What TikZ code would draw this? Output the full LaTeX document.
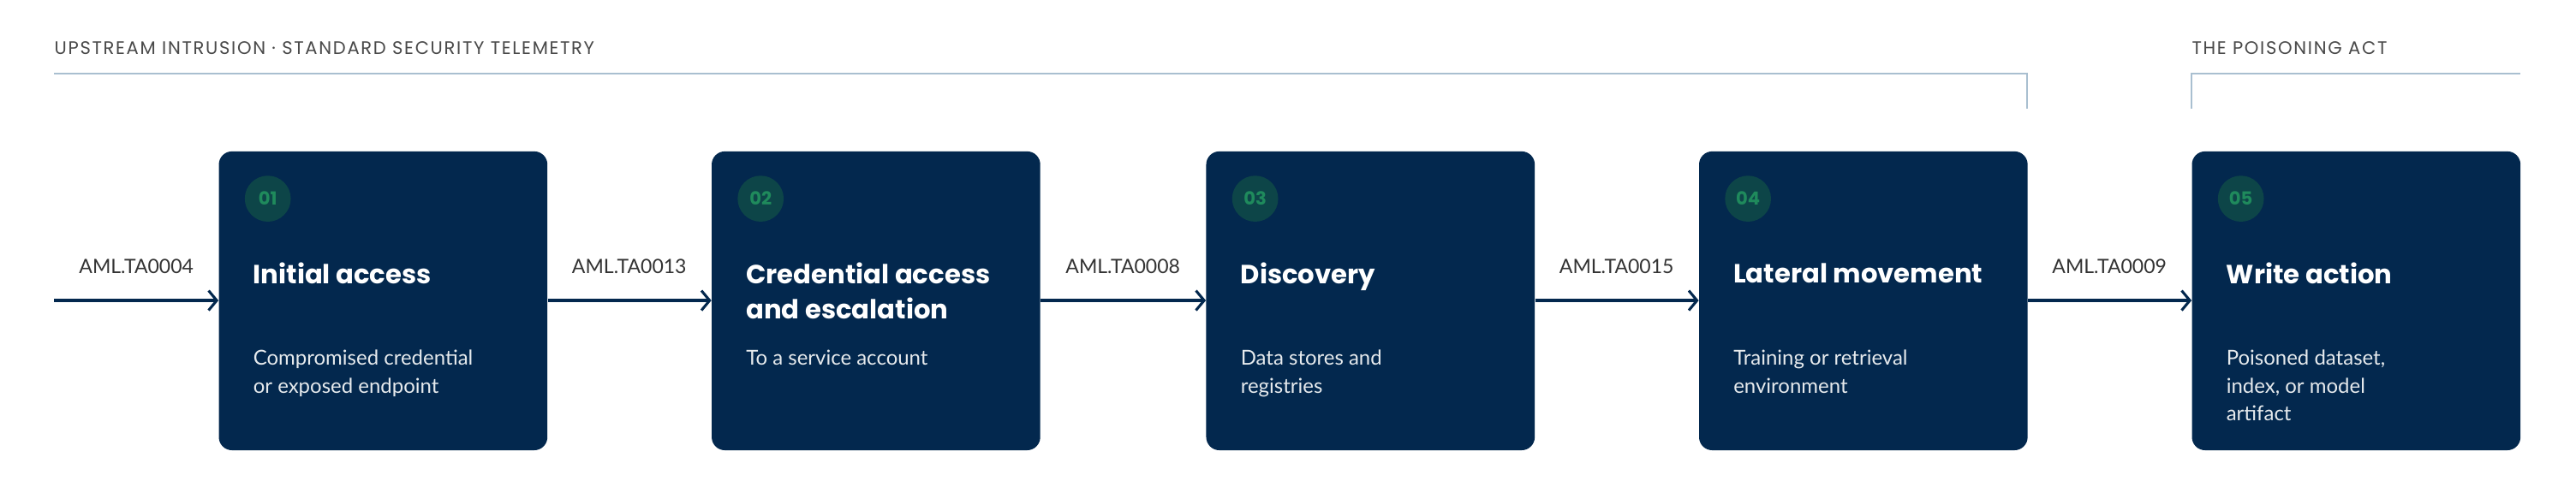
\documentclass[tikz,border=0pt]{standalone}
\usepackage{fontspec}
\setmainfont{Lato}
\newfontfamily\pop{Poppins}
\usetikzlibrary{arrows.meta}
\definecolor{navy}{HTML}{03284E}
\definecolor{badge}{HTML}{0D4548}
\definecolor{badgetxt}{HTML}{1F8A5C}
\definecolor{rule}{HTML}{A9BFD0}
\definecolor{hdr}{HTML}{4A4A4A}
\begin{document}
\begin{tikzpicture}[x=1pt,y=-1pt,
 box/.style={fill=navy,rounded corners=8pt,minimum width=200pt,minimum height=182pt,inner sep=0pt,anchor=north west},
 bdg/.style={circle,fill=badge,minimum size=28pt,inner sep=0pt,text=badgetxt,font=\pop\bfseries\fontsize{11}{11}\selectfont},
 ttl/.style={anchor=west,text=white,font=\pop\bfseries\fontsize{16}{21}\selectfont,align=left,inner sep=0pt},
 dsc/.style={anchor=north west,text=white!90!navy,font=\fontsize{12.5}{17}\selectfont,align=left,inner sep=0pt},
 lbl/.style={text=black!80,font=\fontsize{12}{12}\selectfont,inner sep=0pt},
 hd/.style={anchor=west,text=hdr,font=\pop\fontsize{11}{11}\selectfont\addfontfeature{LetterSpace=8},inner sep=0pt},
 arr/.style={draw=navy,line width=2pt,-{Straight Barb[length=5pt,width=12pt,line width=1.6pt]}},
 rl/.style={draw=rule,line width=1pt}]
\useasboundingbox (0,0) rectangle (1568,300);
\fill[white] (0,0) rectangle (1568,300);
\node[hd] (h1) at (33,29) {UPSTREAM INTRUSION · STANDARD SECURITY TELEMETRY};
\node[hd] (h2) at (1334,29) {THE POISONING ACT};
\coordinate (r1a) at (33,45); \coordinate (r1b) at (1234,45); \coordinate (r1c) at (1234,66);
\coordinate (r2a) at (1534,45); \coordinate (r2b) at (1334,45); \coordinate (r2c) at (1334,66);
\draw[rl] (r1a) -- (r1b) -- (r1c);
\draw[rl] (r2a) -- (r2b) -- (r2c);
\foreach \i/\x/\n/\t/\d in {1/133/01/Initial access/{Compromised credential\\or exposed endpoint},
 2/433/02/{Credential access\\and escalation}/{To a service account},
 3/734/03/Discovery/{Data stores and\\registries},
 4/1034/04/Lateral movement/{Training or retrieval\\environment},
 5/1334/05/Write action/{Poisoned dataset,\\index, or model\\artifact}}{
 \node[box] (b\i) at (\x,92) {};
 \node[bdg] (n\i) at (\x+30,121) {\n};
 \node[ttl,anchor=north west] (t\i) at (\x+21,160) {\t};
 \node[dsc] (d\i) at (\x+21,213) {\d};
}
\coordinate (s) at (33,183);
\draw[arr] (s) -- (b1.west|-s);
\draw[arr] (b1.east|-s) -- (b2.west|-s);
\draw[arr] (b2.east|-s) -- (b3.west|-s);
\draw[arr] (b3.east|-s) -- (b4.west|-s);
\draw[arr] (b4.east|-s) -- (b5.west|-s);
\node[lbl] (l1) at (83,162) {AML.TA0004};
\node[lbl] (l2) at (383,162) {AML.TA0013};
\node[lbl] (l3) at (683.5,162) {AML.TA0008};
\node[lbl] (l4) at (984,162) {AML.TA0015};
\node[lbl] (l5) at (1284,162) {AML.TA0009};
\end{tikzpicture}
\end{document}
